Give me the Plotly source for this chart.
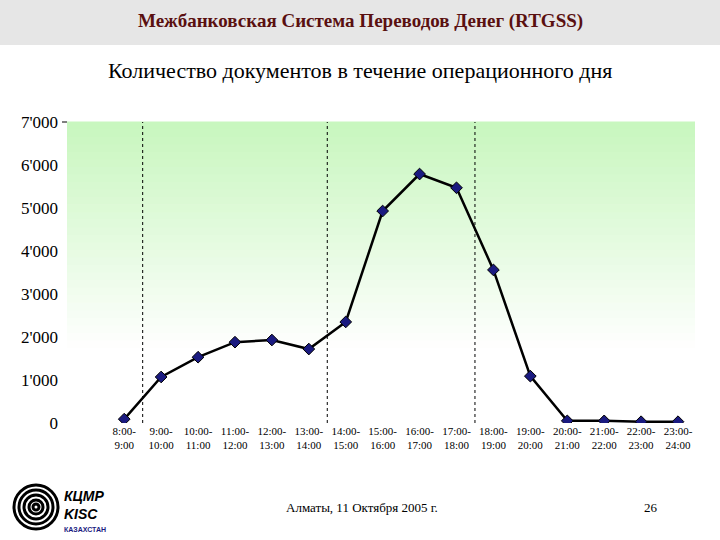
import plotly.graph_objects as go

hours = ["8:00-<br>9:00", "9:00-<br>10:00", "10:00-<br>11:00", "11:00-<br>12:00",
         "12:00-<br>13:00", "13:00-<br>14:00", "14:00-<br>15:00", "15:00-<br>16:00",
         "16:00-<br>17:00", "17:00-<br>18:00", "18:00-<br>19:00", "19:00-<br>20:00",
         "20:00-<br>21:00", "21:00-<br>22:00", "22:00-<br>23:00", "23:00-<br>24:00"]
docs = [90, 1070, 1530, 1880, 1930, 1720, 2350, 4930, 5790, 5470, 3560, 1090, 50, 50, 30, 30]
y_ticks = [0, 1000, 2000, 3000, 4000, 5000, 6000, 7000]
y_labels = ["0", "1'000", "2'000", "3'000", "4'000", "5'000", "6'000", "7'000"]
separators = [0.5, 5.5, 9.5]

serif = "Liberation Serif"

plot_top, plot_bottom, plot_left, plot_right = 122, 423, 67, 695
h = plot_bottom - plot_top
w = plot_right - plot_left


def py(ypx):
    return (plot_bottom - ypx) / h


def px(xpx):
    return (xpx - plot_left) / w


fig = go.Figure()
fig.add_trace(go.Scatter(
    x=list(range(len(docs))), y=docs, mode="lines+markers",
    line=dict(color="black", width=2.5),
    marker=dict(symbol="diamond", size=9, color="#1a1a80", line=dict(color="black", width=1)),
))

shapes = []
# green gradient background: white at bottom, light green at top
n = 40
for i in range(n):
    t = (i + 0.5) / n
    g = max(0.0, (t - 0.25) / 0.75)
    r = int(255 - g * (255 - 200))
    gg = int(255 - g * (255 - 247))
    b = int(255 - g * (255 - 190))
    shapes.append(dict(type="rect", xref="paper", yref="paper", x0=0, x1=1,
                       y0=i / n, y1=(i + 1) / n + 0.002, line_width=0,
                       fillcolor=f"rgb({r},{gg},{b})", layer="below"))
for s in separators:
    shapes.append(dict(type="line", xref="x", yref="paper", x0=s, x1=s, y0=0, y1=1,
                       line=dict(color="black", width=1, dash="dot")))
# small tick at 7'000
shapes.append(dict(type="line", xref="paper", yref="paper", x0=px(62), x1=px(67),
                   y0=1, y1=1, line=dict(color="black", width=1)))
# header band
shapes.append(dict(type="rect", xref="paper", yref="paper", x0=px(0), x1=px(720),
                   y0=py(45), y1=py(-5), fillcolor="#e6e6e6", line_width=0))
# logo spiral
for rad in [22, 17, 12, 7, 3]:
    shapes.append(dict(type="circle", xref="paper", yref="paper", xsizemode="pixel",
                       ysizemode="pixel", xanchor=px(36), yanchor=py(507),
                       x0=-rad, x1=rad, y0=-rad, y1=rad,
                       line=dict(color="black", width=3), fillcolor="rgba(0,0,0,0)"))


def note(text, x, y, size, color="black", family=serif, xanchor="center", align="center"):
    return dict(text=text, x=px(x), y=py(y), xref="paper", yref="paper", showarrow=False,
                xanchor=xanchor, yanchor="middle", align=align,
                font=dict(family=family, size=size, color=color))


annotations = [
    note("<b>Межбанковская Система Переводов Денег (RTGSS)</b>", 360, 21, 19, "#5a1010"),
    note("Количество документов в течение операционного дня", 360, 70, 22),
    note("Алматы, 11 Октября 2005 г.", 362, 507, 13),
    note("26", 651, 507, 13),
    note("<b><i>КЦМР<br>KISC</i></b>", 62, 505, 14, family="Liberation Sans", xanchor="left", align="left"),
    note("<b>КАЗАХСТАН</b>", 62, 529, 7, color="#1a1a80", family="Liberation Sans", xanchor="left"),
]

fig.update_layout(
    width=720, height=540, showlegend=False,
    font=dict(family=serif),
    paper_bgcolor="white", plot_bgcolor="white",
    margin=dict(l=plot_left, r=720 - plot_right, t=plot_top, b=540 - plot_bottom, autoexpand=False),
    shapes=shapes, annotations=annotations,
    xaxis=dict(range=[-1.55, 15.46], tickmode="array", tickvals=list(range(len(hours))),
               ticktext=hours, showgrid=False, zeroline=False, showline=False, automargin=False,
               tickfont=dict(family=serif, size=11, color="black")),
    yaxis=dict(range=[0, 7000], tickmode="array", tickvals=y_ticks, ticktext=y_labels,
               showgrid=False, zeroline=False, showline=False, automargin=False, ticklabelstandoff=8,
               tickfont=dict(family=serif, size=17, color="black")),
)
fig.write_html("out.html", config={"displayModeBar": False},
               post_script="document.body.style.margin='0';")
